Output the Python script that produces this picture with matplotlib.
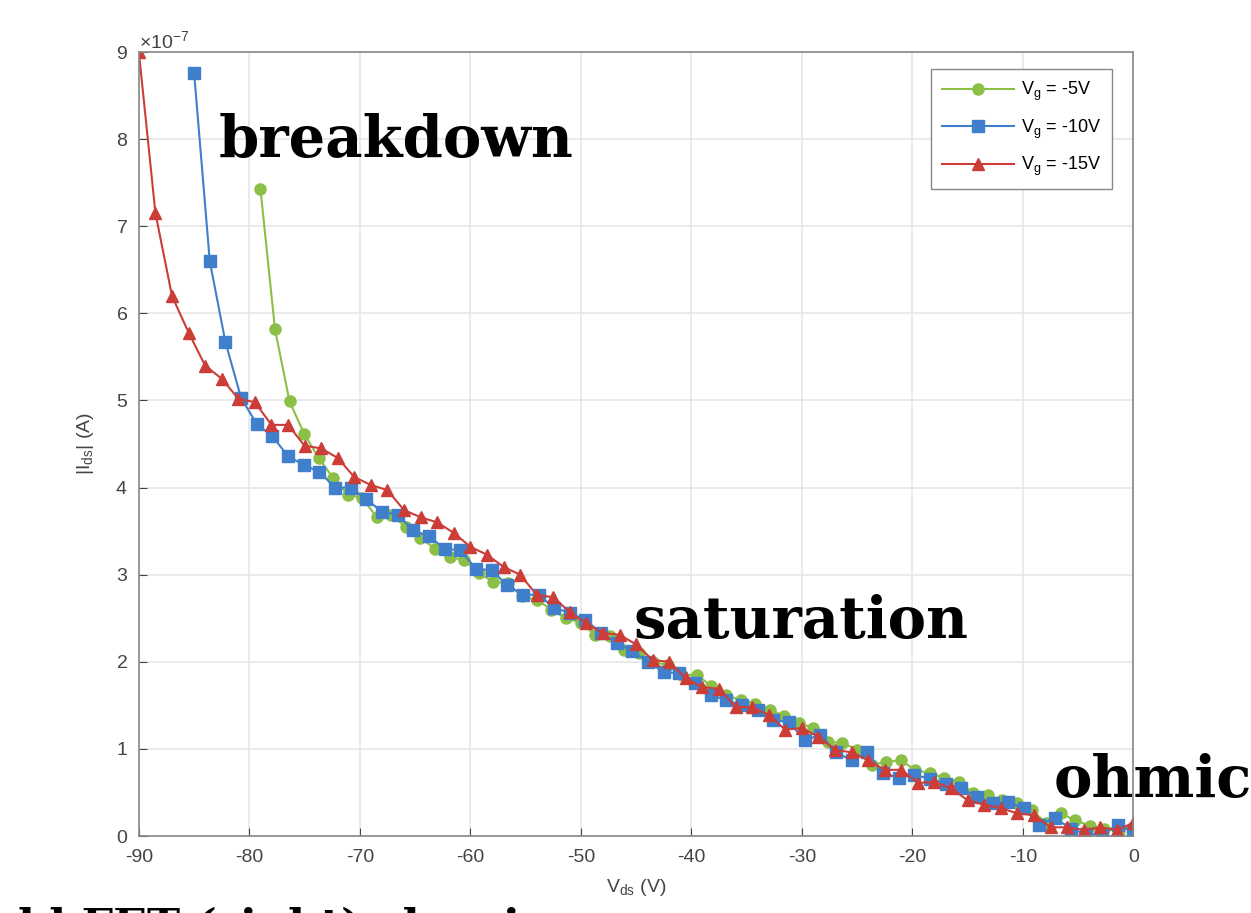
import numpy as np
import matplotlib
matplotlib.use('Agg')
import matplotlib.pyplot as plt
from matplotlib.ticker import ScalarFormatter

plt.rcParams['axes.unicode_minus'] = False
plt.rcParams['font.family'] = ['Liberation Sans', 'DejaVu Sans']
plt.rcParams['mathtext.fontset'] = 'custom'
plt.rcParams['mathtext.rm'] = 'Liberation Sans'

# drain current |Ids| in units of 1e-7 A, each sweep from its start Vds to 0 V (61 points)
vds_start_5 = -79.0
vds_start_10 = -85.0
vds_start_15 = -90.0

ids_vg5 = [7.43, 5.82, 4.99, 4.62, 4.34, 4.11, 3.92, 3.88, 3.66, 3.68,
           3.55, 3.42, 3.30, 3.20, 3.17, 3.02, 2.92, 2.90, 2.75, 2.71,
           2.60, 2.50, 2.45, 2.31, 2.30, 2.14, 2.10, 2.00, 1.96, 1.85,
           1.85, 1.72, 1.62, 1.56, 1.52, 1.45, 1.38, 1.30, 1.24, 1.08,
           1.07, 0.99, 0.82, 0.85, 0.87, 0.76, 0.72, 0.67, 0.62, 0.49,
           0.47, 0.41, 0.38, 0.30, 0.15, 0.26, 0.18, 0.12, 0.08, 0.06,
           0.10]
ids_vg10 = [8.76, 6.60, 5.67, 5.03, 4.73, 4.59, 4.36, 4.26, 4.18, 4.00,
            4.00, 3.87, 3.72, 3.69, 3.51, 3.44, 3.30, 3.28, 3.07, 3.05,
            2.88, 2.77, 2.77, 2.62, 2.56, 2.48, 2.33, 2.22, 2.12, 2.00,
            1.88, 1.87, 1.76, 1.62, 1.56, 1.50, 1.45, 1.33, 1.31, 1.10,
            1.16, 0.96, 0.87, 0.96, 0.72, 0.67, 0.70, 0.66, 0.60, 0.55,
            0.45, 0.38, 0.39, 0.32, 0.13, 0.21, 0.08, 0.02, 0.02, 0.13,
            0.05]
ids_vg15 = [9.00, 7.15, 6.20, 5.78, 5.40, 5.25, 5.02, 4.98, 4.72, 4.72,
            4.48, 4.45, 4.34, 4.12, 4.03, 3.97, 3.74, 3.66, 3.60, 3.48,
            3.32, 3.23, 3.09, 3.00, 2.77, 2.74, 2.57, 2.44, 2.33, 2.31,
            2.20, 2.02, 2.00, 1.81, 1.71, 1.69, 1.48, 1.48, 1.39, 1.22,
            1.24, 1.14, 0.99, 0.96, 0.87, 0.76, 0.76, 0.61, 0.62, 0.55,
            0.41, 0.36, 0.32, 0.26, 0.24, 0.10, 0.10, 0.07, 0.10, 0.07,
            0.15]

labels = ['V$_\\mathrm{g}$ = -5V', 'V$_\\mathrm{g}$ = -10V', 'V$_\\mathrm{g}$ = -15V']
colors = ['#8cbf46', '#3f7fcb', '#cc3d38']
markers = ['o', 's', '^']

fig = plt.figure(figsize=(12.51, 9.13), dpi=100)
ax = fig.add_axes([0.111, 0.0843, 0.795, 0.8587])

series = [(vds_start_5, ids_vg5), (vds_start_10, ids_vg10), (vds_start_15, ids_vg15)]
for (v0, ids), lab, c, m in zip(series, labels, colors, markers):
    vds = np.linspace(v0, 0, len(ids))
    ax.plot(vds, np.array(ids) * 1e-7, color=c, marker=m, markersize=8,
            linewidth=1.5, label=lab)

ax.set_xlim(-90, 0)
ax.set_ylim(0, 9e-7)
ax.set_xticks(np.arange(-90, 1, 10))
ax.set_yticks(np.arange(0, 9.1, 1) * 1e-7)

fmt = ScalarFormatter(useMathText=True)
fmt.set_powerlimits((-3, 3))
ax.yaxis.set_major_formatter(fmt)
ax.yaxis.get_offset_text().set_fontsize(14)
ax.yaxis.get_offset_text().set_color('#555555')

ax.grid(True, color='#e6e6e6', linewidth=1.2)
ax.set_axisbelow(True)
ax.tick_params(direction='in', labelsize=14, colors='#444444', length=6)
ax.tick_params(axis='x', pad=9)
ax.tick_params(axis='y', pad=8)
for s in ax.spines.values():
    s.set_color('#888888')
    s.set_linewidth(1.2)

ax.set_xlabel('V$_\\mathrm{ds}$ (V)', fontsize=14, color='#444444', labelpad=8)
ax.set_ylabel('|I$_\\mathrm{ds}$| (A)', fontsize=14, color='#444444', labelpad=14)

leg = ax.legend(loc='upper right', fontsize=13, handlelength=4.0,
                borderpad=0.6, labelspacing=0.8, fancybox=False,
                framealpha=1, edgecolor='#888888', handletextpad=0.4,
                bbox_to_anchor=(0.988, 0.99))

# annotations
anno_font = dict(family='DejaVu Serif', weight='bold', fontsize=41.5, color='black')
fig.text(219 / 1251, 1 - 157 / 913, 'breakdown', **anno_font)
fig.text(634 / 1251, 1 - 638 / 913, 'saturation', **anno_font)
fig.text(1054 / 1251, 1 - 797 / 913, 'ohmic', **anno_font)
fig.text(18 / 1251, 1 - 940 / 913, 'ld FET (right) showing',
         family='DejaVu Serif', weight='bold', fontsize=32, color='black')

fig.savefig('out.png', dpi=100, facecolor='white')
